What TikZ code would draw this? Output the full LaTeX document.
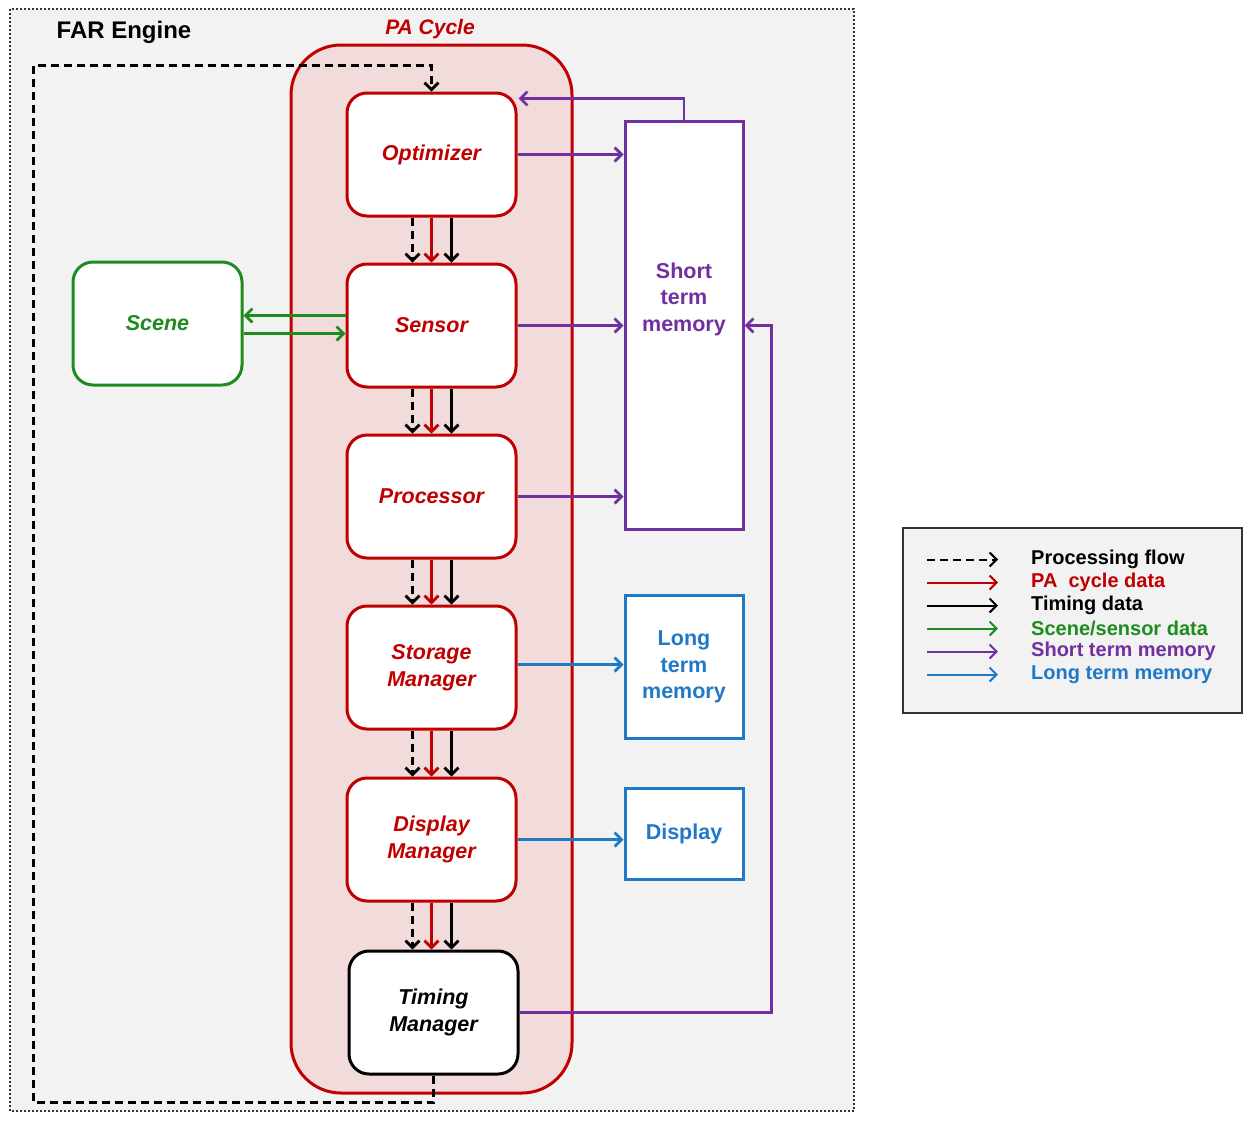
\documentclass[tikz,border=0pt]{standalone}
\usepackage{fontspec}
\setmainfont{Liberation Sans}
\usetikzlibrary{arrows.meta}
\definecolor{pared}{HTML}{C00000}
\definecolor{pafill}{HTML}{F2DCDB}
\definecolor{engfill}{HTML}{F2F2F2}
\definecolor{scgreen}{HTML}{1E8C1E}
\definecolor{stmpurple}{HTML}{7030A0}
\definecolor{ltmblue}{HTML}{1F78C8}
\begin{document}
\begin{tikzpicture}[x=1pt,y=-1pt,
  tip/.style={-{Straight Barb[length=7pt,width=14pt]}},
  flow/.style={tip,line width=2.8pt},
  procflow/.style={flow,black,dash pattern=on 8pt off 5pt},
  cycdata/.style={flow,pared},
  timedata/.style={flow,black},
  scdata/.style={flow,scgreen},
  stmdata/.style={flow,stmpurple},
  ltmdata/.style={flow,ltmblue},
  boxlabel/.style={font=\fontsize{21.5}{26.5}\selectfont\bfseries\itshape,align=center},
  stage/.style={boxlabel,draw=pared,text=pared,fill=white,line width=3pt,rounded corners=20pt,
    minimum width=169pt,minimum height=123pt,inner sep=0pt},
  store/.style={font=\fontsize{21.5}{26.5}\selectfont\bfseries,align=center,fill=white,line width=3pt,
    minimum width=118pt,inner sep=0pt},
  legtext/.style={font=\fontsize{20}{24}\selectfont\bfseries,anchor=west,inner sep=0pt}]
\useasboundingbox (0,0) rectangle (1243,1120);

% engine frame
\draw[fill=engfill,draw=black!80,line width=2.5pt,dash pattern=on 2pt off 2pt] (10,9) rectangle (854,1111);
\node[font=\fontsize{24}{28}\selectfont\bfseries] (far) at (124,32) {FAR Engine};

% perception-action cycle band
\draw[fill=pafill,draw=pared,line width=3pt,rounded corners=50pt] (291,45) rectangle (572,1093);
\node[font=\fontsize{21}{25}\selectfont\bfseries\itshape,text=pared] (pa) at (430,29) {PA Cycle};

% pipeline stages
\node[stage] (opt) at (431.5,154.5) {Optimizer};
\node[stage] (sen) at (431.5,325.5) {Sensor};
\node[stage] (pro) at (431.5,496.5) {Processor};
\node[stage] (sm)  at (431.5,667.5) {Storage\\Manager};
\node[stage] (dm)  at (431.5,839.5) {Display\\Manager};
\node[stage,draw=black,text=black] (tm) at (433.5,1012.5) {Timing\\Manager};

% scene
\node[stage,draw=scgreen,text=scgreen] (scene) at (157.5,323.5) {Scene};

% memories and display
\node[store,draw=stmpurple,minimum height=408pt] (stm) at (684,325.5) {};
\node[font=\fontsize{21.5}{26.5}\selectfont\bfseries,align=center,text=stmpurple] (stmtext) at (684,299) {Short\\term\\memory};
\node[store,draw=ltmblue,text=ltmblue,minimum height=143pt] (ltm) at (684,667) {Long\\term\\memory};
\node[store,draw=ltmblue,text=ltmblue,minimum height=91pt] (disp) at (684,834) {Display};

% stage-to-stage triples: processing flow, cycle data, timing data
\foreach \a/\b in {opt/sen,sen/pro,pro/sm,sm/dm,dm/tm}{
  \draw[procflow] ([xshift=-19pt]\a.south) -- ([xshift=-19pt]\a.south |- \b.north);
  \draw[cycdata]  ([xshift=0pt]\a.south) -- ([xshift=0pt]\a.south |- \b.north);
  \draw[timedata] ([xshift=20pt]\a.south) -- ([xshift=20pt]\a.south |- \b.north);
}

% processing loop back to the optimizer
\coordinate (loopx) at (33.5,0);
\coordinate (looptop) at (0,65.5);
\coordinate (loopbot) at (0,1102.5);
\draw[procflow] (tm.south) -- (tm.south |- loopbot) -- (loopx |- loopbot) -- (loopx |- looptop) -- (opt.north |- looptop) -- (opt.north);

% scene <-> sensor
\coordinate (gu) at (0,315.5);
\coordinate (gl) at (0,333.5);
\draw[scdata] (sen.west |- gu) -- (scene.east |- gu);
\draw[scdata] (scene.east |- gl) -- (sen.west |- gl);

% short term memory traffic
\draw[stmdata] (opt.east) -- (opt.east -| stm.west);
\draw[stmdata] (sen.east) -- (sen.east -| stm.west);
\draw[stmdata] (pro.east) -- (pro.east -| stm.west);
\coordinate (back) at (0,98.5);
\draw[stmdata] (stm.north) -- (stm.north |- back) -- ([xshift=1pt]opt.east |- back);
\coordinate (bend) at (771.5,0);
\draw[stmdata] (tm.east) -- (tm.east -| bend) -- (bend |- stm.east) -- (stm.east);

% long term memory and display
\coordinate (ltmy) at (0,664.5);
\draw[ltmdata] (sm.east |- ltmy) -- (ltm.west |- ltmy);
\draw[ltmdata] (dm.east) -- (dm.east -| disp.west);

% legend
\draw[fill=engfill,draw=black!80,line width=1.8pt] (903,528) rectangle (1242,713);
\foreach \y/\st/\txt/\col [count=\i] in {
  559.5/procflow/{Processing flow}/black,
  582.5/cycdata/{PA\ \ cycle data}/pared,
  605.5/timedata/{Timing data}/black,
  628.5/scdata/{Scene/sensor data}/scgreen,
  651.5/stmdata/{Short term memory}/stmpurple,
  674.5/ltmdata/{Long term memory}/ltmblue}{
  \coordinate (la\i) at (927,\y);
  \coordinate (lb\i) at (998,\y);
  \draw[\st,line width=2pt,tip] (la\i) -- (lb\i);
  \node[legtext,text=\col] (lt\i) at (1031,\y) {\txt};
}
\end{tikzpicture}
\end{document}
